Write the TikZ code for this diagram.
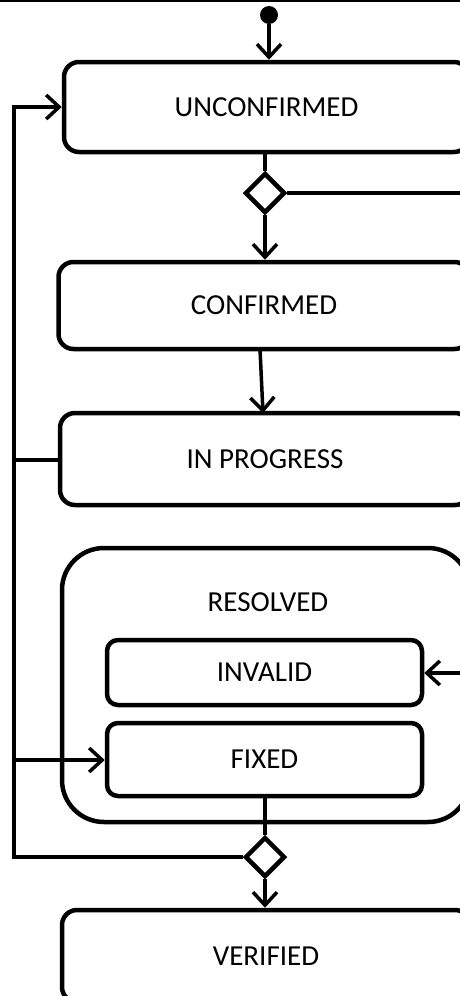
\documentclass[tikz,border=0pt]{standalone}
\usepackage{fontspec}
\setmainfont{Carlito}
\usetikzlibrary{arrows.meta,shapes.geometric}
\begin{document}
\begin{tikzpicture}[x=1pt,y=-1pt,
  statebox/.style={draw, rectangle, rounded corners=15pt, line width=4.5pt, inner sep=0pt,
    font=\fontsize{29}{34}\selectfont},
  innerbox/.style={draw, rectangle, rounded corners=11pt, line width=4.5pt, inner sep=0pt,
    minimum width=315pt, font=\fontsize{29}{34}\selectfont},
  decision/.style={draw, diamond, line width=4.5pt, inner sep=0pt, minimum width=40pt, minimum height=40pt, fill=white},
  conn/.style={line width=3.5pt},
  arr/.style={line width=3.5pt, -{Straight Barb[length=13pt,width=24pt]}},
  lbl/.style={font=\fontsize{29}{34}\selectfont}
]
\useasboundingbox (0,0) rectangle (460,996);
\clip (0,0) rectangle (460,996);
\fill[white] (0,0) rectangle (460,996);

% top rule
\draw[line width=2.5pt] (0,1) -- (460,1);

% nodes
\node[circle, fill=black, minimum size=18pt, inner sep=0pt] (start) at (269,15) {};
\node[statebox, minimum width=405pt, minimum height=90pt] (unc) at (266.5,107) {UNCONFIRMED};
\node[decision] (d1) at (265,193) {};
\node[statebox, minimum width=411pt, minimum height=87pt] (conf) at (264,305.5) {CONFIRMED};
\node[statebox, minimum width=410pt, minimum height=92pt] (prog) at (265,459) {IN PROGRESS};
\node[draw, rectangle, rounded corners=42pt, line width=4.5pt, minimum width=408pt, minimum height=274pt, inner sep=0pt] (res) at (266,685) {};
\node[lbl] (reslbl) at (268,602) {RESOLVED};
\node[innerbox, minimum height=65pt] (inv) at (264.5,672.5) {INVALID};
\node[innerbox, minimum height=73pt] (fix) at (264.5,759.5) {FIXED};
\node[decision] (d2) at (265,857) {};
\node[statebox, minimum width=408pt, minimum height=92pt] (ver) at (266,956) {VERIFIED};

% free ends
\coordinate (rA) at (462,193);
\coordinate (rB) at (462,673);
\coordinate (lTop) at (14,107);
\coordinate (lProg) at (14,460);
\coordinate (lFix) at (14,760);
\coordinate (lBot) at (14,857);

% connectors
\draw[arr] (start) -- (start |- unc.north);
\draw[conn] (unc.south -| d1) -- (d1.north);
\draw[conn] (d1.east) -- (rA);
\draw[arr] (d1.south) -- (d1 |- conf.north);
\draw[arr] (260,349) -- (263,413);
\draw[conn] (prog.west |- lProg) -- (lProg);
\draw[conn, line cap=rect] (lBot) -- (lTop);
\draw[arr] (lTop) -- (unc.west |- lTop);
\draw[arr] (lFix) -- (fix.west |- lFix);
\draw[arr] (rB) -- (inv.east |- rB);
\draw[conn] (fix.south -| d2) -- (d2.north);
\draw[conn] (d2.west) -- (lBot);
\draw[arr] (d2.south) -- (d2 |- ver.north);
\end{tikzpicture}
\end{document}
